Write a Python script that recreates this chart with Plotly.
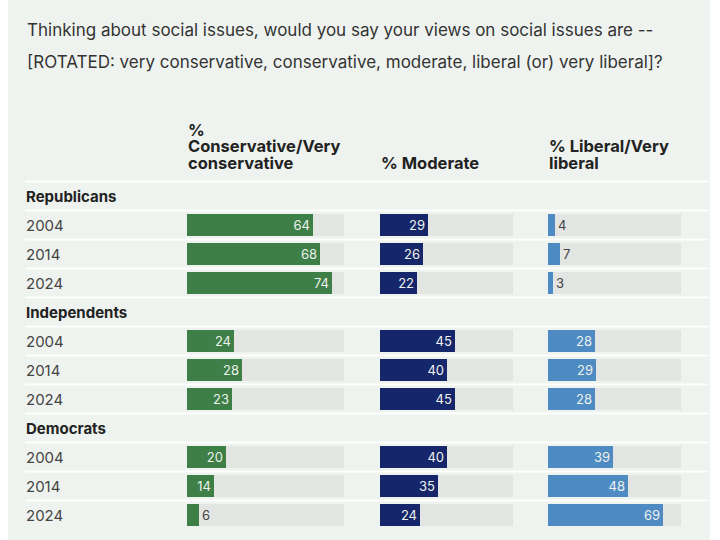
import plotly.graph_objects as go

# Gallup: views on social issues by party, 2004 / 2014 / 2024
groups = ["Republicans", "Independents", "Democrats"]
years = ["2004", "2014", "2024"]
conservative = [64, 68, 74, 24, 28, 23, 20, 14, 6]
moderate = [29, 26, 22, 45, 40, 45, 40, 35, 24]
liberal = [4, 7, 3, 28, 29, 28, 39, 48, 69]
track_max = 80

W, H = 720, 540
FONT = "Inter"


def px(x):
    return x / W


def py(y):
    return 1 - y / H


# row index for every line of the table (group headers get their own row)
rows = []
group_rows = []
for g in groups:
    group_rows.append(len(rows))
    rows.append(g)
    for yr in years:
        rows.append(yr)
data_rows = [i for i, r in enumerate(rows) if r not in groups]
year_labels = [rows[i] for i in data_rows]

columns = [
    ("x", conservative, "#3d7f47", (187, 344)),
    ("x2", moderate, "#16266a", (380, 513)),
    ("x3", liberal, "#4d8bc2", (548, 681)),
]

fig = go.Figure()
for ax, vals, color, _ in columns:
    fig.add_trace(go.Bar(
        x=[track_max] * len(vals), y=data_rows, orientation="h",
        xaxis=ax, yaxis="y", width=0.79,
        marker=dict(color="#e2e5e1", line_width=0),
        hoverinfo="skip", showlegend=False,
    ))
    fig.add_trace(go.Bar(
        x=vals, y=data_rows, orientation="h",
        xaxis=ax, yaxis="y", width=0.79,
        marker=dict(color=color, line_width=0),
        text=[str(v) for v in vals],
        textposition=["inside" if v >= 10 else "outside" for v in vals],
        insidetextanchor="end",
        textfont=dict(family=FONT, size=13,
                      color=["#eef2ee" if v >= 10 else "#444444" for v in vals]),
        cliponaxis=False, showlegend=False,
    ))

layout_axes = {}
for k, (ax, _, _, (x0, x1)) in enumerate(columns):
    name = "xaxis" if k == 0 else "xaxis%d" % (k + 1)
    layout_axes[name] = dict(domain=[px(x0), px(x1)], range=[0, track_max],
                             visible=False, fixedrange=True, anchor="y")

top, pitch = 196, 29
fig.update_layout(
    width=W, height=H,
    margin=dict(l=0, r=0, t=0, b=0),
    paper_bgcolor="white", plot_bgcolor="rgba(0,0,0,0)",
    barmode="overlay", bargap=0,
    yaxis=dict(domain=[0, 1], visible=False, fixedrange=True,
               range=[(H - top) / pitch, -top / pitch]),
    font=dict(family=FONT, color="#333333"),
    **layout_axes,
)

# panel background and row separators
shapes = [dict(type="rect", xref="paper", yref="paper", x0=px(8), x1=px(710),
               y0=0, y1=1, fillcolor="#eff3ef", line_width=0, layer="below")]
for i in range(len(rows)):
    shapes.append(dict(type="line", xref="paper", yref="y", x0=px(25), x1=px(708),
                       y0=i - 0.5, y1=i - 0.5, line=dict(color="white", width=2),
                       layer="below"))
fig.update_layout(shapes=shapes)

ann = []
title_lines = [
    "Thinking about social issues, would you say your views on social issues are --",
    "[ROTATED: very conservative, conservative, moderate, liberal (or) very liberal]?",
]
for j, t in enumerate(title_lines):
    ann.append(dict(text=t, xref="paper", yref="paper", x=px(25), y=py(30 + 32 * j),
                    xanchor="left", yanchor="middle", showarrow=False,
                    font=dict(size=17, color="#333333")))

headers = [
    (["%", "Conservative/Very", "conservative"], 186),
    (["% Moderate"], 379),
    (["% Liberal/Very", "liberal"], 547),
]
for lines, x0 in headers:
    n = len(lines)
    for j, t in enumerate(lines):
        ann.append(dict(text="<b>%s</b>" % t, xref="paper", yref="paper", x=px(x0),
                        y=py(163 - 16.7 * (n - 1 - j)), xanchor="left", yanchor="middle",
                        showarrow=False, font=dict(size=16.5, color="#222222")))

for g, r in zip(groups, group_rows):
    ann.append(dict(text="<b>%s</b>" % g, xref="paper", yref="y", x=px(24), y=r,
                    xanchor="left", yanchor="middle", showarrow=False,
                    font=dict(size=15, color="#222222")))
for yl, r in zip(year_labels, data_rows):
    ann.append(dict(text=yl, xref="paper", yref="y", x=px(24), y=r,
                    xanchor="left", yanchor="middle", showarrow=False,
                    font=dict(size=15, color="#444444")))
fig.update_layout(annotations=ann)

# the page body has a default 8px margin; drop it so pixels line up
fig.write_html("out.html", config={"displayModeBar": False},
               post_script="document.body.style.margin='0';")
